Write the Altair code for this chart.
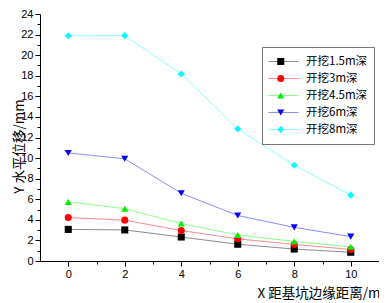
import altair as alt
import pandas as pd

x_vals = [0, 2, 4, 6, 8, 10]
series_names = ["开挖1.5m深", "开挖3m深", "开挖4.5m深", "开挖6m深", "开挖8m深"]
s_15 = [3.07, 3.02, 2.33, 1.63, 1.16, 0.85]
s_3 = [4.22, 3.97, 2.96, 2.15, 1.61, 1.12]
s_45 = [5.74, 5.08, 3.64, 2.53, 1.90, 1.38]
s_6 = [10.50, 9.93, 6.58, 4.42, 3.27, 2.37]
s_8 = [21.88, 21.90, 18.18, 12.84, 9.30, 6.40]

dark_colors = ["#000000", "#ff0000", "#00ee00", "#0000ff", "#00ffff"]
light_colors = ["#8c8c8c", "#ff8c8c", "#8cff8c", "#8c8cff", "#8cffff"]
shapes = ["square", "circle", "triangle-up", "triangle-down", "diamond"]

rows = []
for name, vals in zip(series_names, [s_15, s_3, s_45, s_6, s_8]):
    for xv, yv in zip(x_vals, vals):
        rows.append({"x": xv, "y": yv, "series": name})
df = pd.DataFrame(rows)

cjk = "Noto Sans CJK SC"
sans = "Liberation Sans"

x_enc = alt.X(
    "x:Q",
    scale=alt.Scale(domain=[-1, 11], nice=False, zero=False),
    axis=alt.Axis(
        title="X 距基坑边缘距离/m",
        values=list(range(0, 12)),
        labelExpr="datum.value % 2 == 0 && datum.value <= 10 ? datum.label : ''",
        labelOverlap=False,
        tickSize={"condition": {"test": "datum.value % 2 === 0 && datum.value <= 10", "value": 5}, "value": 3},
        grid=False,
        titleX=340, titleY=32, titleAlign="right", titleBaseline="middle",
    ),
)
y_enc = alt.Y(
    "y:Q",
    scale=alt.Scale(domain=[0, 24], nice=False),
    axis=alt.Axis(
        title="Y 水平位移/mm",
        values=list(range(0, 25)),
        labelExpr="datum.value % 2 == 0 ? datum.label : ''",
        labelOverlap=False,
        tickSize={"condition": {"test": "datum.value % 2 === 0", "value": 5}, "value": 3},
        grid=False,
        titleX=-21, titleY=132, titleAlign="center", titleBaseline="middle", titleAngle=270,
    ),
)

line_legend = alt.Legend(
    title=None, orient="none", legendX=222, legendY=33,
    symbolType="stroke", symbolSize=900, symbolStrokeWidth=1,
    strokeColor="#777777", padding=6, rowPadding=0, clipHeight=17,
    labelFont=cjk, labelFontSize=11.5, labelColor="#000000", labelOffset=7,
)
point_legend = alt.Legend(
    title=None, orient="none", legendX=229, legendY=33,
    symbolSize=50, padding=6, rowPadding=0, clipHeight=17,
    labelFont=cjk, labelFontSize=11.5, labelExpr="''", labelOffset=7,
)

base = alt.Chart(df)
lines = base.mark_line(strokeWidth=1).encode(
    x=x_enc, y=y_enc,
    color=alt.Color("series:N", sort=series_names,
                    scale=alt.Scale(domain=series_names, range=light_colors),
                    legend=line_legend),
)
points = base.mark_point(filled=True, size=50, opacity=1).encode(
    x=x_enc, y=y_enc,
    color=alt.Color("series:N", sort=series_names,
                    scale=alt.Scale(domain=series_names, range=dark_colors),
                    legend=point_legend),
    shape=alt.Shape("series:N", sort=series_names,
                    scale=alt.Scale(domain=series_names, range=shapes),
                    legend=point_legend),
)

chart = alt.layer(lines, points).resolve_scale(
    color="independent", shape="independent"
).properties(
    width=339, height=247,
    autosize="none",
    padding={"left": 32, "top": 6, "right": 0, "bottom": 39},
).configure_view(stroke=None).configure_axis(
    domainColor="#000000", tickColor="#000000", labelColor="#000000",
    labelFont=sans, labelFontSize=11, labelPadding=2,
    titleFont=cjk, titleFontSize=13.5, titleFontWeight="normal", titleColor="#000000",
    domainWidth=1, tickWidth=1,
)

chart.save("out.html", embed_options={"renderer": "svg", "actions": False})
